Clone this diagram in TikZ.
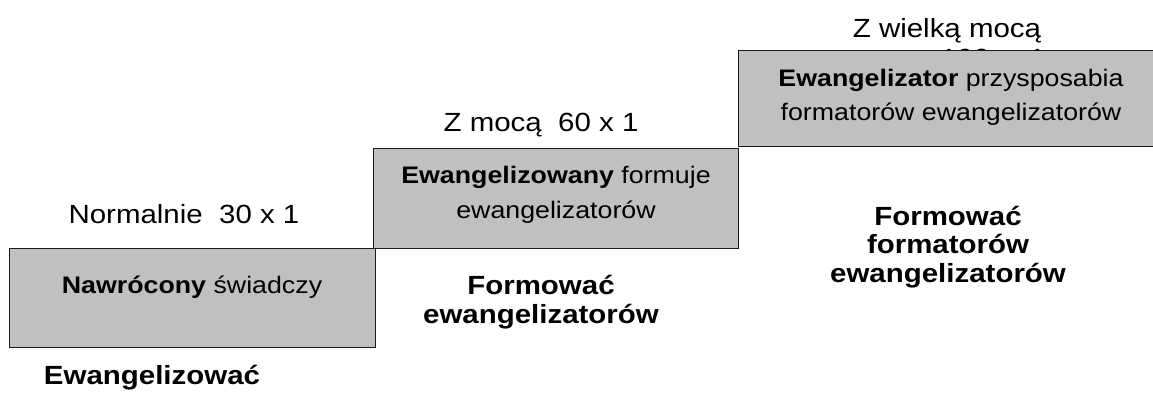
\documentclass[tikz,border=0pt]{standalone}
\usepackage{fontspec}
\setmainfont{Liberation Sans}[FakeStretch=1.12]
\definecolor{boxgray}{HTML}{C0C0C0}
\definecolor{edge}{HTML}{1A1A1A}
\begin{document}
\begin{tikzpicture}[x=1pt,y=-1pt,
  stepbox/.style={draw=edge, line width=1.4pt, fill=boxgray, anchor=north west, inner sep=0pt},
  lbl/.style={anchor=base, inner sep=0pt, font=\fontsize{26.3}{30}\selectfont},
  blbl/.style={anchor=base, inner sep=0pt, font=\fontsize{26.3}{30}\selectfont\bfseries},
  btxt/.style={anchor=base, inner sep=0pt, font=\fontsize{23.9}{35}\selectfont}]
\useasboundingbox (0,0) rectangle (1153,394);
\clip (0,0) rectangle (1153,394);
% labels above the steps
\node[lbl] (l3a) at (947,37) {Z wielką mocą};
\node[lbl] (l3b) at (993,67) {100~ x 1};
\node[lbl] (l2) at (541,131) {Z mocą~ 60 x 1};
\node[lbl] (l1) at (184,223) {Normalnie~ 30 x 1};
% steps
\node[stepbox, minimum width=366pt, minimum height=99pt] (b1) at (9,248) {};
\node[stepbox, minimum width=365pt, minimum height=100pt] (b2) at (373,148) {};
\node[stepbox, minimum width=432pt, minimum height=96pt] (b3) at (738,50) {};
% texts in steps
\node[btxt] (t1) at (192,293) {\textbf{Nawrócony} świadczy};
\node[btxt] (t2a) at (556,183) {\textbf{Ewangelizowany} formuje};
\node[btxt] (t2b) at (556,218) {ewangelizatorów};
\node[btxt] (t3a) at (951,86) {\textbf{Ewangelizator} przysposabia};
\node[btxt] (t3b) at (951,120) {formatorów ewangelizatorów};
% labels below
\node[blbl] (d1) at (152,384) {Ewangelizować};
\node[blbl] (d2a) at (541,294) {Formować};
\node[blbl] (d2b) at (541,323) {ewangelizatorów};
\node[blbl] (d3a) at (948,225) {Formować};
\node[blbl] (d3b) at (948,253) {formatorów};
\node[blbl] (d3c) at (948,282) {ewangelizatorów};
\end{tikzpicture}
\end{document}
